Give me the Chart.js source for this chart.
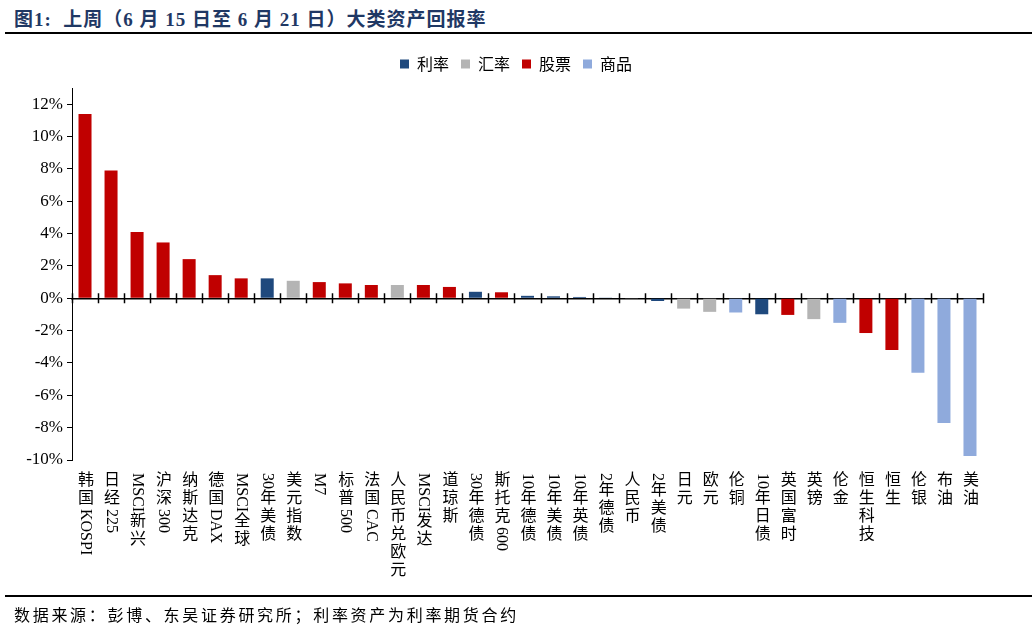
<!DOCTYPE html>
<html>
<head>
<meta charset="utf-8">
<script src="https://cdn.jsdelivr.net/npm/chart.js@4"></script>
<style>
    body { margin: 0; background: #fff; }
    #wrap { position: relative; width: 1032px; height: 630px; overflow: hidden; }
    #title {
        position: absolute; left: 14px; top: 4px;
        font: bold 19px "Liberation Serif", "Noto Sans CJK SC", serif;
        letter-spacing: 1px;
        color: #1f3864; white-space: pre;
    }
    #rule-top { position: absolute; left: 5px; right: 0; top: 32px; height: 2px; background: #000; }
    #rule-bottom { position: absolute; left: 5px; right: 0; top: 595px; height: 2px; background: #000; }
    #source {
        position: absolute; left: 14px; top: 602px;
        font: 16px "Noto Sans CJK SC", sans-serif; letter-spacing: 2.7px; color: #000;
    }
    canvas { position: absolute; left: 0; top: 0; }
</style>
</head>
<body>
<div id="wrap">
    <div id="title">图1:  上周（6 月 15 日至 6 月 21 日）大类资产回报率</div>
    <div id="rule-top"></div>
    <canvas id="chart" width="1032" height="630"></canvas>
    <div id="rule-bottom"></div>
    <div id="source">数据来源：彭博、东吴证券研究所；利率资产为利率期货合约</div>
</div>
<script>
// 资产名称、周回报率（%）、资产类别
const assets = ['韩国KOSPI', '日经225', 'MSCI新兴', '沪深300', '纳斯达克', '德国DAX', 'MSCI全球', '30年美债',
    '美元指数', 'M7', '标普500', '法国CAC', '人民币兑欧元', 'MSCI发达', '道琼斯', '30年德债', '斯托克600',
    '10年德债', '10年美债', '10年英债', '2年德债', '人民币', '2年美债', '日元', '欧元', '伦铜', '10年日债',
    '英国富时', '英镑', '伦金', '恒生科技', '恒生', '伦银', '布油', '美油'];
const returns = [11.4, 7.9, 4.1, 3.45, 2.42, 1.43, 1.23, 1.23,
    1.08, 1.0, 0.92, 0.82, 0.82, 0.82, 0.7, 0.4, 0.37,
    0.15, 0.12, 0.08, 0.02, -0.02, -0.17, -0.64, -0.84, -0.88, -0.99,
    -1.03, -1.29, -1.52, -2.15, -3.2, -4.6, -7.72, -9.75];
const assetTypes = ['股票', '股票', '股票', '股票', '股票', '股票', '股票', '利率',
    '汇率', '股票', '股票', '股票', '汇率', '股票', '股票', '利率', '股票',
    '利率', '利率', '利率', '利率', '汇率', '利率', '汇率', '汇率', '商品', '利率',
    '股票', '汇率', '商品', '股票', '股票', '商品', '商品', '商品'];
const typeNames = ['利率', '汇率', '股票', '商品'];
const typeColors = ['#1f497d', '#b4b4b4', '#c00000', '#8faadc'];
const yTicks = [-10, -8, -6, -4, -2, 0, 2, 4, 6, 8, 10, 12];

const datasets = typeNames.map((name, k) => ({
    label: name,
    data: returns.map((v, i) => assetTypes[i] === name ? v : null),
    backgroundColor: typeColors[k],
    barPercentage: 0.5,
    categoryPercentage: 1
}));

// 图例：多留一点底部空间，并在整张画布上居中
const legendTweak = {
    id: 'legendTweak',
    beforeInit(chart) {
        const fit = chart.legend.fit;
        chart.legend.fit = function () {
            fit.call(this);
            this.height += 6;
        };
    },
    afterLayout(chart) {
        chart.legend.left = 0;
        chart.legend.right = chart.width;
    }
};

// 竖排类目标签 + 零轴上的穿刺刻度
const axisExtras = {
    id: 'axisExtras',
    afterDraw(chart) {
        const ctx = chart.ctx;
        const xs = chart.scales.x;
        const ys = chart.scales.y;
        const zeroY = ys.getPixelForValue(0);
        const step = (xs.right - xs.left) / assets.length;

        ctx.save();
        ctx.strokeStyle = '#000';
        ctx.lineWidth = 1.5;
        for (let i = 0; i <= assets.length; i++) {
            const x = Math.round(xs.left + i * step) + 0.5;
            ctx.beginPath();
            ctx.moveTo(x, zeroY - 5);
            ctx.lineTo(x, zeroY + 5);
            ctx.stroke();
        }

        ctx.fillStyle = '#000';
        ctx.font = '16px "Liberation Serif", "Noto Sans CJK SC", serif';
        assets.forEach((name, i) => {
            const x = xs.getPixelForValue(i) + 1;
            let y = chart.chartArea.bottom + 13;
            const parts = name.match(/[A-Za-z0-9]+|./g);
            parts.forEach(p => {
                if (/^[A-Za-z0-9]+$/.test(p)) {
                    const w = ctx.measureText(p).width;
                    ctx.save();
                    ctx.translate(x, y);
                    ctx.rotate(Math.PI / 2);
                    ctx.textAlign = 'left';
                    ctx.textBaseline = 'middle';
                    ctx.fillText(p, 0, 1);
                    ctx.restore();
                    y += w + 2;
                } else {
                    ctx.textAlign = 'center';
                    ctx.textBaseline = 'top';
                    ctx.fillText(p, x, y);
                    y += 18;
                }
            });
        });
        ctx.restore();
    }
};

new Chart(document.getElementById('chart'), {
    type: 'bar',
    data: { labels: assets, datasets: datasets },
    options: {
        responsive: false,
        animation: false,
        layout: { padding: { top: 44, bottom: 170, left: 0, right: 49 } },
        plugins: {
            legend: {
                position: 'top',
                labels: {
                    boxWidth: 9,
                    boxHeight: 9,
                    padding: 12,
                    color: '#000',
                    font: { family: '"Noto Sans CJK SC", sans-serif', size: 16 }
                }
            },
            tooltip: { enabled: false }
        },
        scales: {
            x: {
                stacked: true,
                position: { y: 0 },
                grid: { display: false },
                border: { color: '#000', width: 1.5 },
                ticks: { display: false }
            },
            y: {
                stacked: true,
                min: -10,
                max: 13,
                afterBuildTicks: scale => {
                    scale.ticks = yTicks.map(v => ({ value: v }));
                },
                afterFit: scale => { scale.width = 72; },
                grid: { display: true, drawOnChartArea: false, tickLength: 5, color: '#000' },
                border: { color: '#000', width: 1 },
                ticks: {
                    color: '#000',
                    padding: 4,
                    font: { family: '"Liberation Serif", serif', size: 17 },
                    callback: v => v + '%'
                }
            }
        }
    },
    plugins: [legendTweak, axisExtras]
});
</script>
</body>
</html>
